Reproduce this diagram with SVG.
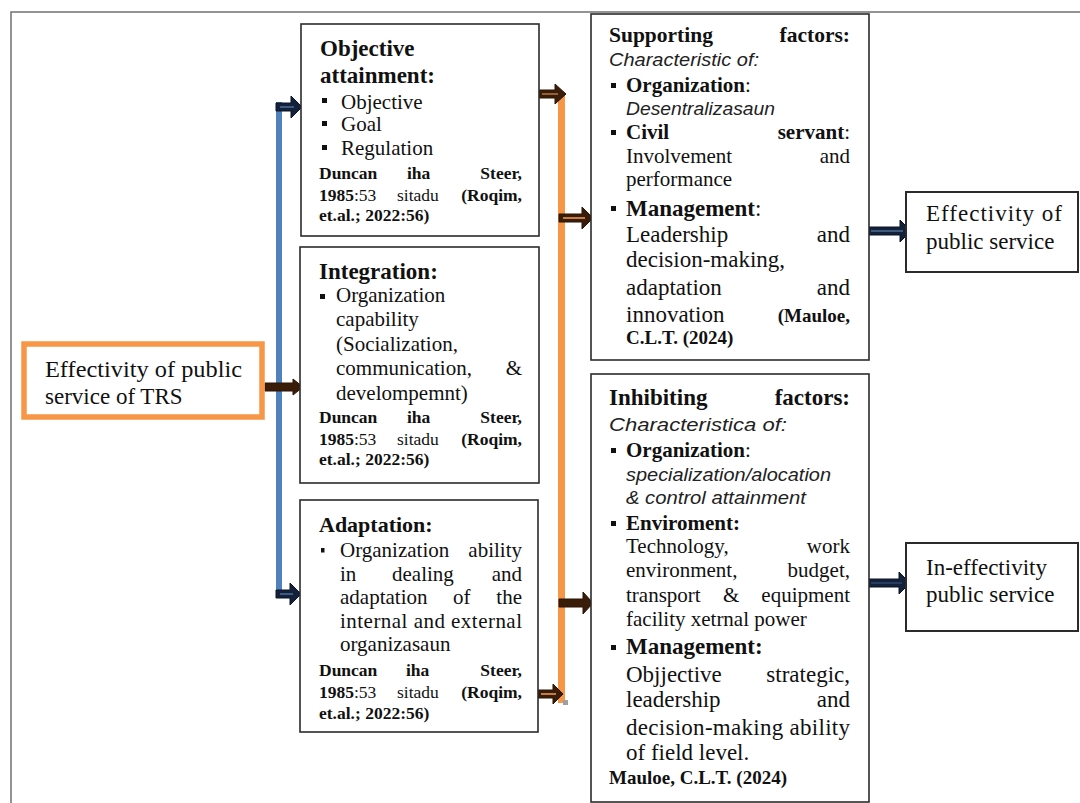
<svg xmlns="http://www.w3.org/2000/svg" width="1080" height="803" viewBox="0 0 1080 803">
<style>
.bx{fill:#fff;stroke:#2b2b2b;stroke-width:1.6}
.t{font-family:"Liberation Serif","Times New Roman",serif;fill:#111}
.b{font-weight:bold}
.i{font-family:"Liberation Sans",Arial,sans-serif;font-style:italic;fill:#222}
.s21{font-size:21px}.s23{font-size:23px}.s18{font-size:17.5px}.s19{font-size:19px}
.bul{fill:#111}
.navy{fill:#14213a;stroke:#0b1426;stroke-width:1}
.navyIn{stroke:#4a6a92;stroke-width:1.6}
.brown{fill:#3a1d08;stroke:#2a1404;stroke-width:1}
.brownIn{stroke:#d58a45;stroke-width:1.8}
</style>
<rect x="11" y="12" width="1100" height="820" fill="none" stroke="#707070" stroke-width="1.5"/>

<g id="connectors">
  <line x1="279" y1="102" x2="279" y2="598" stroke="#4f81bd" stroke-width="6"/>
  <line x1="561.5" y1="95" x2="561.5" y2="703" stroke="#f79646" stroke-width="7"/>
  <rect x="563" y="700" width="5" height="5" fill="#a0a0a0"/>
  <!-- blue line to box1 -->
  <path class="navy" d="M276,103 H291 V96 L302,107 L291,118 V111 H276 Z"/>
  <line class="navyIn" x1="280" y1="107" x2="294" y2="107"/>
  <!-- blue line to box3 -->
  <path class="navy" d="M276,590 H290 V583 L301,594 L290,605 V598 H276 Z"/>
  <line class="navyIn" x1="280" y1="594" x2="293" y2="594"/>
  <!-- orange box to box2 -->
  <path class="brown" d="M265,383 H293 V379 L303,387 L293,395 V391 H265 Z"/>
  <!-- box1 to orange line -->
  <path class="brown" d="M539,90 H555 V84 L566,94 L555,104 V98 H539 Z"/>
  <line class="brownIn" x1="542" y1="94" x2="558" y2="94" style="stroke:#a0683a"/>
  <!-- box3 to orange line -->
  <path class="brown" d="M538,690 H553 V684 L563,694 L553,704 V698 H538 Z"/>
  <line class="brownIn" x1="541" y1="694" x2="556" y2="694"/>
  <!-- orange line to box4 -->
  <path class="brown" d="M559,214 H582 V207 L593,218 L582,229 V222 H559 Z"/>
  <line class="brownIn" x1="563" y1="218" x2="585" y2="218"/>
  <!-- orange line to box5 -->
  <path class="brown" d="M559,599 H583 V592 L593,603 L583,614 V607 H559 Z"/>
  <!-- box4 to box6 -->
  <path class="navy" d="M867,227 H900 V220 L911,231 L900,242 V235 H867 Z"/>
  <line class="navyIn" x1="871" y1="231" x2="903" y2="231"/>
  <!-- box5 to box7 -->
  <path class="navy" d="M867,579 H899 V572 L910,583 L899,594 V587 H867 Z"/>
  <line class="navyIn" x1="871" y1="583" x2="902" y2="583" style="stroke:#2c4468"/>
</g>

<g id="node-trs">
  <rect x="24" y="344" width="238" height="73" fill="#fff" stroke="#f79646" stroke-width="5.5"/>
  <text class="t s23" x="45" y="377" textLength="197" lengthAdjust="spacingAndGlyphs">Effectivity of public</text>
  <text class="t s23" x="45" y="404">service of TRS</text>
</g>

<g id="node-objective">
  <rect class="bx" x="301" y="24" width="238" height="212"/>
  <text class="t b s23" x="320" y="55.5">Objective</text>
  <text class="t b s23" x="320" y="83">attainment:</text>
  <rect class="bul" x="322" y="98" width="5" height="5"/>
  <text class="t s21" x="341" y="108.5">Objective</text>
  <rect class="bul" x="322" y="121" width="5" height="5"/>
  <text class="t s21" x="341" y="131">Goal</text>
  <rect class="bul" x="322" y="145" width="5" height="5"/>
  <text class="t s21" x="341" y="155">Regulation</text>
  <text class="t b s18" x="319" y="179">Duncan</text>
  <text class="t b s18" x="407" y="179">iha</text>
  <text class="t b s18" x="522" y="179" text-anchor="end">Steer,</text>
  <text class="t s18" x="319" y="201"><tspan class="b">1985</tspan>:53</text>
  <text class="t s18" x="397" y="201">sitadu</text>
  <text class="t b s18" x="522" y="201" text-anchor="end">(Roqim,</text>
  <text class="t b s18" x="319" y="221">et.al.; 2022:56)</text>
</g>

<g id="node-integration">
  <rect class="bx" x="300" y="247" width="239" height="236"/>
  <text class="t b s23" x="319" y="279">Integration:</text>
  <rect class="bul" x="320" y="294" width="5" height="5"/>
  <text class="t s21" x="336" y="302">Organization</text>
  <text class="t s21" x="336" y="326">capability</text>
  <text class="t s21" x="336" y="351">(Socialization,</text>
  <text class="t s21" x="336" y="375">communication,</text>
  <text class="t s21" x="522" y="375" text-anchor="end">&amp;</text>
  <text class="t s21" x="336" y="400">develompemnt)</text>
  <text class="t b s18" x="319" y="423">Duncan</text>
  <text class="t b s18" x="407" y="423">iha</text>
  <text class="t b s18" x="522" y="423" text-anchor="end">Steer,</text>
  <text class="t s18" x="319" y="444.5"><tspan class="b">1985</tspan>:53</text>
  <text class="t s18" x="397" y="444.5">sitadu</text>
  <text class="t b s18" x="522" y="444.5" text-anchor="end">(Roqim,</text>
  <text class="t b s18" x="319" y="464.5">et.al.; 2022:56)</text>
</g>

<g id="node-adaptation">
  <rect class="bx" x="300" y="500" width="238" height="232"/>
  <text class="t b s21" x="319" y="532" style="font-size:22px">Adaptation:</text>
  <rect class="bul" x="321" y="548" width="3.5" height="4.5"/>
  <text class="t s21" x="340" y="557">Organization</text>
  <text class="t s21" x="522" y="557" text-anchor="end">ability</text>
  <text class="t s21" x="340" y="580.5">in</text>
  <text class="t s21" x="392" y="580.5">dealing</text>
  <text class="t s21" x="522" y="580.5" text-anchor="end">and</text>
  <text class="t s21" x="340" y="604">adaptation</text>
  <text class="t s21" x="453" y="604">of</text>
  <text class="t s21" x="522" y="604" text-anchor="end">the</text>
  <text class="t s21" x="340" y="627.5" textLength="182" lengthAdjust="spacing">internal and external</text>
  <text class="t s21" x="340" y="651">organizasaun</text>
  <text class="t b s18" x="319" y="676">Duncan</text>
  <text class="t b s18" x="406" y="676">iha</text>
  <text class="t b s18" x="522" y="676" text-anchor="end">Steer,</text>
  <text class="t s18" x="319" y="698"><tspan class="b">1985</tspan>:53</text>
  <text class="t s18" x="397" y="698">sitadu</text>
  <text class="t b s18" x="522" y="698" text-anchor="end">(Roqim,</text>
  <text class="t b s18" x="319" y="719">et.al.; 2022:56)</text>
</g>

<g id="node-supporting">
  <rect class="bx" x="591" y="14" width="278" height="346"/>
  <text class="t b s21" x="609" y="42" style="font-size:21.5px">Supporting</text>
  <text class="t b s21" x="850" y="42" text-anchor="end" style="font-size:21.5px">factors:</text>
  <text class="i s19" x="609" y="66" textLength="150" lengthAdjust="spacingAndGlyphs">Characteristic of:</text>
  <rect class="bul" x="611" y="83" width="5" height="5"/>
  <text class="t s21" x="626" y="92"><tspan class="b">Organization</tspan>:</text>
  <text class="i s19" x="626" y="115" textLength="149" lengthAdjust="spacingAndGlyphs">Desentralizasaun</text>
  <rect class="bul" x="611" y="130" width="5" height="5"/>
  <text class="t b s21" x="626" y="139">Civil</text>
  <text class="t s21" x="850" y="139" text-anchor="end"><tspan class="b">servant</tspan>:</text>
  <text class="t s21" x="626" y="163">Involvement</text>
  <text class="t s21" x="850" y="163" text-anchor="end">and</text>
  <text class="t s21" x="626" y="185.5">performance</text>
  <rect class="bul" x="611" y="206" width="5" height="5"/>
  <text class="t s23" x="626" y="216"><tspan class="b">Management</tspan>:</text>
  <text class="t s23" x="626" y="242">Leadership</text>
  <text class="t s23" x="850" y="242" text-anchor="end">and</text>
  <text class="t s23" x="626" y="267">decision-making,</text>
  <text class="t s23" x="626" y="295">adaptation</text>
  <text class="t s23" x="850" y="295" text-anchor="end">and</text>
  <text class="t s23" x="626" y="322">innovation</text>
  <text class="t b s19" x="850" y="322" text-anchor="end">(Mauloe,</text>
  <text class="t b s19" x="626" y="344">C.L.T. (2024)</text>
</g>

<g id="node-inhibiting">
  <rect class="bx" x="591" y="374" width="278" height="428"/>
  <text class="t b s23" x="609" y="405">Inhibiting</text>
  <text class="t b s23" x="850" y="405" text-anchor="end">factors:</text>
  <text class="i s19" x="609" y="431" textLength="178" lengthAdjust="spacingAndGlyphs">Characteristica of:</text>
  <rect class="bul" x="611" y="448" width="5" height="5"/>
  <text class="t s21" x="626" y="457"><tspan class="b">Organization</tspan>:</text>
  <text class="i s19" x="626" y="481" textLength="205" lengthAdjust="spacingAndGlyphs">specialization/alocation</text>
  <text class="i s19" x="626" y="504" textLength="180" lengthAdjust="spacingAndGlyphs">&amp; control attainment</text>
  <rect class="bul" x="611" y="521" width="5" height="5"/>
  <text class="t b s21" x="626" y="530">Enviroment:</text>
  <text class="t s21" x="626" y="553">Technology,</text>
  <text class="t s21" x="850" y="553" text-anchor="end">work</text>
  <text class="t s21" x="626" y="577">environment,</text>
  <text class="t s21" x="850" y="577" text-anchor="end">budget,</text>
  <text class="t s21" x="626" y="602">transport</text>
  <text class="t s21" x="723" y="602">&amp;</text>
  <text class="t s21" x="850" y="602" text-anchor="end">equipment</text>
  <text class="t s21" x="626" y="626">facility xetrnal power</text>
  <rect class="bul" x="611" y="645" width="5" height="5"/>
  <text class="t b s23" x="626" y="654">Management:</text>
  <text class="t s23" x="626" y="682">Objjective</text>
  <text class="t s23" x="850" y="682" text-anchor="end">strategic,</text>
  <text class="t s23" x="626" y="707">leadership</text>
  <text class="t s23" x="850" y="707" text-anchor="end">and</text>
  <text class="t s23" x="626" y="735" textLength="224" lengthAdjust="spacing">decision-making ability</text>
  <text class="t s23" x="626" y="760">of field level.</text>
  <text class="t b s19" x="609" y="784">Mauloe, C.L.T. (2024)</text>
</g>

<g id="node-effective">
  <rect class="bx" x="906" y="192" width="172" height="80" style="stroke-width:2"/>
  <text class="t s23" x="926" y="221" textLength="136" lengthAdjust="spacing">Effectivity of</text>
  <text class="t s23" x="926" y="249">public service</text>
</g>

<g id="node-ineffective">
  <rect class="bx" x="906" y="543" width="172" height="88" style="stroke-width:2"/>
  <text class="t s23" x="926" y="575">In-effectivity</text>
  <text class="t s23" x="926" y="602">public service</text>
</g>
</svg>
